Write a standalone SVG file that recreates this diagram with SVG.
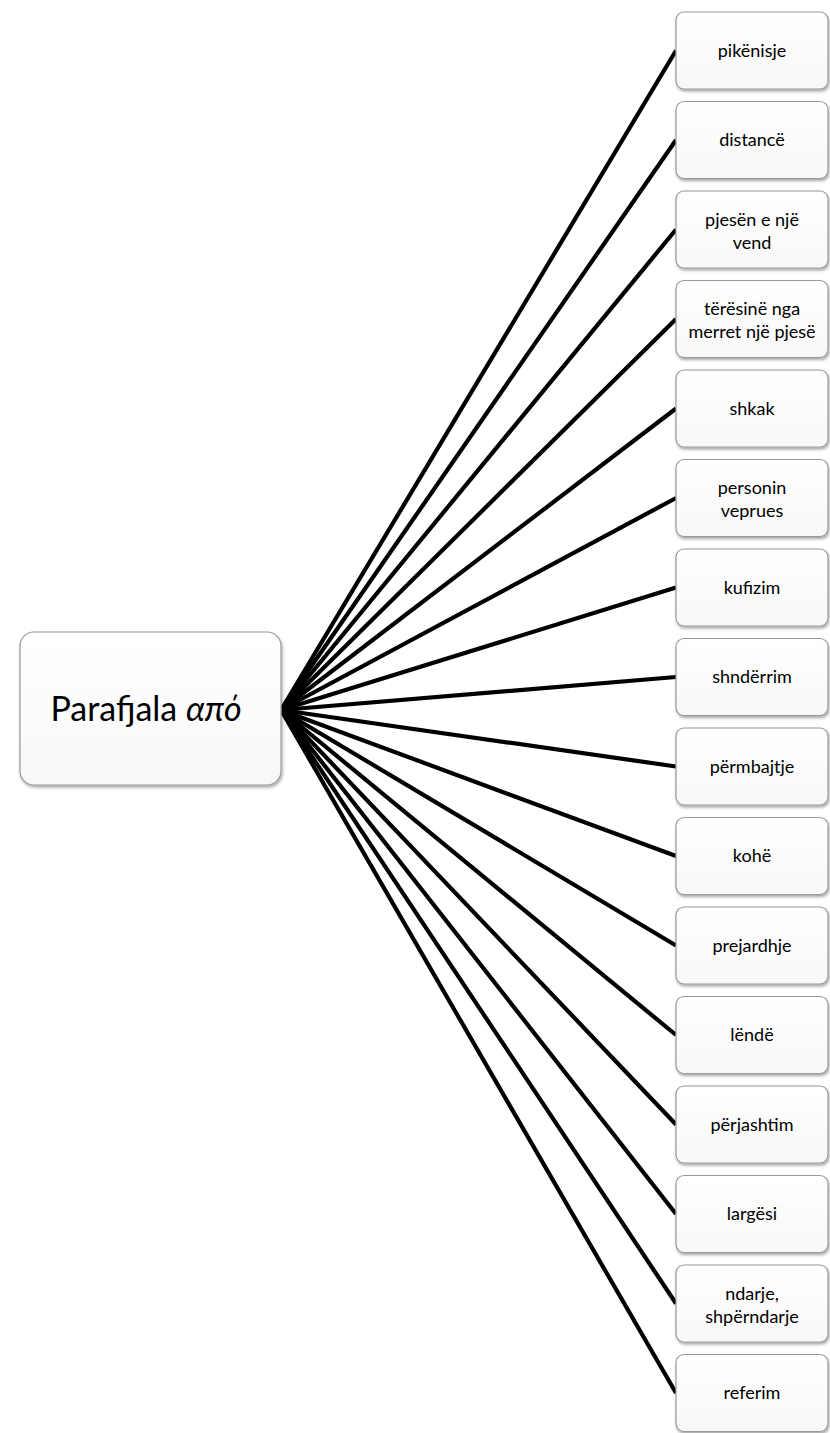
<svg xmlns="http://www.w3.org/2000/svg" width="830" height="1433" viewBox="0 0 830 1433">
  <defs>
    <linearGradient id="boxFill" x1="0" y1="0" x2="0" y2="1">
      <stop offset="0" stop-color="#ffffff"/>
      <stop offset="1" stop-color="#f8f8f8"/>
    </linearGradient>
    <filter id="shadow" x="-10%" y="-10%" width="125%" height="130%">
      <feDropShadow dx="1" dy="2" stdDeviation="1.5" flood-color="#000" flood-opacity="0.35"/>
    </filter>
  </defs>
  <style>
    .box { fill: url(#boxFill); stroke: #9a9a9a; stroke-width: 1.2; filter: url(#shadow); }
    .lbl { font-family: Lato, "Open Sans", "Liberation Sans", sans-serif; font-size: 18px; fill: #000; text-anchor: middle; }
    .main { font-family: Lato, "Open Sans", "Liberation Sans", sans-serif; font-size: 34px; fill: #000; text-anchor: middle; }
    .edge { stroke: #000; stroke-width: 4.2; stroke-linecap: butt; fill: none; }
  </style>
  <rect width="830" height="1433" fill="#ffffff"/>

  <!-- connectors from the root to each leaf -->
  <g id="connectors">
    <line class="edge" x1="281" y1="710" x2="676" y2="50.5"/>
    <line class="edge" x1="281" y1="710" x2="676" y2="140"/>
    <line class="edge" x1="281" y1="710" x2="676" y2="229.5"/>
    <line class="edge" x1="281" y1="710" x2="676" y2="319"/>
    <line class="edge" x1="281" y1="710" x2="676" y2="408.5"/>
    <line class="edge" x1="281" y1="710" x2="676" y2="498"/>
    <line class="edge" x1="281" y1="710" x2="676" y2="587.5"/>
    <line class="edge" x1="281" y1="710" x2="676" y2="677"/>
    <line class="edge" x1="281" y1="710" x2="676" y2="766.5"/>
    <line class="edge" x1="281" y1="710" x2="676" y2="856"/>
    <line class="edge" x1="281" y1="710" x2="676" y2="945.5"/>
    <line class="edge" x1="281" y1="710" x2="676" y2="1035"/>
    <line class="edge" x1="281" y1="710" x2="676" y2="1124.5"/>
    <line class="edge" x1="281" y1="710" x2="676" y2="1214"/>
    <line class="edge" x1="281" y1="710" x2="676" y2="1303.5"/>
    <line class="edge" x1="281" y1="710" x2="676" y2="1393"/>
  </g>

  <!-- root node -->
  <g id="root">
    <rect class="box" x="20" y="632" width="261" height="153" rx="14"/>
    <text class="main" x="146" y="721">Parafjala <tspan font-style="italic">από</tspan></text>
  </g>

  <!-- leaf nodes -->
  <g id="n1"><rect class="box" x="676" y="12" width="152" height="77" rx="8"/><text class="lbl" x="752" y="56.5">pikënisje</text></g>
  <g id="n2"><rect class="box" x="676" y="101.5" width="152" height="77" rx="8"/><text class="lbl" x="752" y="146">distancë</text></g>
  <g id="n3"><rect class="box" x="676" y="191" width="152" height="77" rx="8"/><text class="lbl" x="752" y="225.5">pjesën e një</text><text class="lbl" x="752" y="248.5">vend</text></g>
  <g id="n4"><rect class="box" x="676" y="280.5" width="152" height="77" rx="8"/><text class="lbl" x="752" y="315">tërësinë nga</text><text class="lbl" x="752" y="338">merret një pjesë</text></g>
  <g id="n5"><rect class="box" x="676" y="370" width="152" height="77" rx="8"/><text class="lbl" x="752" y="414.5">shkak</text></g>
  <g id="n6"><rect class="box" x="676" y="459.5" width="152" height="77" rx="8"/><text class="lbl" x="752" y="494">personin</text><text class="lbl" x="752" y="517">veprues</text></g>
  <g id="n7"><rect class="box" x="676" y="549" width="152" height="77" rx="8"/><text class="lbl" x="752" y="593.5">kufizim</text></g>
  <g id="n8"><rect class="box" x="676" y="638.5" width="152" height="77" rx="8"/><text class="lbl" x="752" y="683">shndërrim</text></g>
  <g id="n9"><rect class="box" x="676" y="728" width="152" height="77" rx="8"/><text class="lbl" x="752" y="772.5">përmbajtje</text></g>
  <g id="n10"><rect class="box" x="676" y="817.5" width="152" height="77" rx="8"/><text class="lbl" x="752" y="862">kohë</text></g>
  <g id="n11"><rect class="box" x="676" y="907" width="152" height="77" rx="8"/><text class="lbl" x="752" y="951.5">prejardhje</text></g>
  <g id="n12"><rect class="box" x="676" y="996.5" width="152" height="77" rx="8"/><text class="lbl" x="752" y="1041">lëndë</text></g>
  <g id="n13"><rect class="box" x="676" y="1086" width="152" height="77" rx="8"/><text class="lbl" x="752" y="1130.5">përjashtim</text></g>
  <g id="n14"><rect class="box" x="676" y="1175.5" width="152" height="77" rx="8"/><text class="lbl" x="752" y="1220">largësi</text></g>
  <g id="n15"><rect class="box" x="676" y="1265" width="152" height="77" rx="8"/><text class="lbl" x="752" y="1299.5">ndarje,</text><text class="lbl" x="752" y="1322.5">shpërndarje</text></g>
  <g id="n16"><rect class="box" x="676" y="1354.5" width="152" height="77" rx="8"/><text class="lbl" x="752" y="1399">referim</text></g>
</svg>
